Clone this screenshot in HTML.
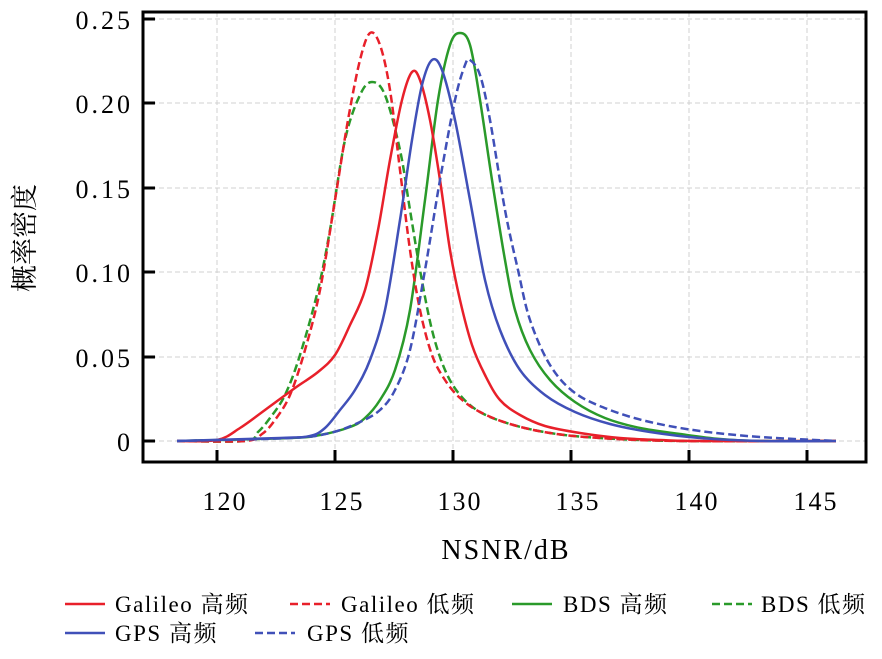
<!DOCTYPE html>
<html><head><meta charset="utf-8"><style>body{margin:0;background:#fff}</style></head><body>
<svg width="882" height="654" xmlns="http://www.w3.org/2000/svg" font-family="Liberation Serif, Noto Serif CJK SC, serif">
<rect width="882" height="654" fill="#fff"/>
<g stroke="#d0d0d0" stroke-width="1" stroke-dasharray="5,3">
<line x1="143" x2="866" y1="19" y2="19"/><line x1="143" x2="866" y1="103" y2="103"/><line x1="143" x2="866" y1="188" y2="188"/><line x1="143" x2="866" y1="272" y2="272"/><line x1="143" x2="866" y1="357" y2="357"/><line x1="143" x2="866" y1="441" y2="441"/>
<line x1="217" x2="217" y1="12" y2="462"/><line x1="335" x2="335" y1="12" y2="462"/><line x1="453" x2="453" y1="12" y2="462"/><line x1="571" x2="571" y1="12" y2="462"/><line x1="689" x2="689" y1="12" y2="462"/><line x1="807" x2="807" y1="12" y2="462"/>
</g>
<g fill="none" stroke-width="2.5" id="curves"></g>
<rect x="143" y="12" width="723" height="450" fill="none" stroke="#000" stroke-width="3"/>
<g stroke="#000" stroke-width="3">
<line x1="143" x2="155" y1="19" y2="19"/><line x1="143" x2="155" y1="103" y2="103"/><line x1="143" x2="155" y1="188" y2="188"/><line x1="143" x2="155" y1="272" y2="272"/><line x1="143" x2="155" y1="357" y2="357"/><line x1="143" x2="155" y1="441" y2="441"/>
<line x1="217" x2="217" y1="462" y2="450"/><line x1="335" x2="335" y1="462" y2="450"/><line x1="453" x2="453" y1="462" y2="450"/><line x1="571" x2="571" y1="462" y2="450"/><line x1="689" x2="689" y1="462" y2="450"/><line x1="807" x2="807" y1="462" y2="450"/>
</g>
<g font-size="26" letter-spacing="3" text-anchor="end" fill="#000">
<text x="133" y="29">0.25</text><text x="133" y="113">0.20</text><text x="133" y="198">0.15</text><text x="133" y="282">0.10</text><text x="133" y="367">0.05</text><text x="133" y="451">0</text>
</g>
<g font-size="26" letter-spacing="2" text-anchor="middle" fill="#000">
<text x="225" y="510">120</text><text x="342" y="510">125</text><text x="460" y="510">130</text><text x="578" y="510">135</text><text x="697" y="510">140</text><text x="816" y="510">145</text>
<text x="506" y="559" font-size="28">NSNR/dB</text>
<text transform="translate(34,238) rotate(-90)" font-size="27" letter-spacing="0">概率密度</text>
</g>
<g font-size="23" letter-spacing="1.5" fill="#000" stroke-width="2.5">
<line x1="65" x2="105" y1="604" y2="604" stroke="#e8202a"/><text x="115" y="612">Galileo 高频</text>
<line x1="290" x2="330" y1="604" y2="604" stroke="#e8202a" stroke-dasharray="8,4"/><text x="341" y="612">Galileo 低频</text>
<line x1="512" x2="552" y1="604" y2="604" stroke="#2a9a2a"/><text x="563" y="612">BDS 高频</text>
<line x1="712" x2="752" y1="604" y2="604" stroke="#2a9a2a" stroke-dasharray="8,4"/><text x="761" y="612">BDS 低频</text>
<line x1="65" x2="105" y1="633" y2="633" stroke="#4050b8"/><text x="115" y="641">GPS 高频</text>
<line x1="255" x2="295" y1="633" y2="633" stroke="#4050b8" stroke-dasharray="8,4"/><text x="307" y="641">GPS 低频</text>
</g>
</svg>
<script>
const S=[
["#2a9a2a","",[[177,441],[290,438],[320,435],[350,427],[365,418],[380,400],[395,370],[410,310],[425,200],[438,100],[450,45],[460,33],[470,45],[480,100],[492,180],[505,260],[515,310],[530,350],[550,380],[575,402],[605,418],[640,428],[680,434],[720,439],[760,441],[836,441]]],
["#2a9a2a","8,4",[[177,441],[245,441],[258,432],[270,418],[285,395],[300,355],[318,290],[330,230],[345,140],[360,95],[372,82],[385,95],[400,150],[410,210],[420,270],[432,330],[445,370],[460,395],[480,412],[510,424],[550,433],[600,438],[680,441],[836,441]]],
["#e8202a","",[[177,441],[217,440],[240,428],[265,410],[295,388],[318,372],[335,355],[350,325],[365,290],[378,230],[390,160],[402,100],[412,72],[420,80],[430,120],[440,180],[450,250],[460,300],[472,345],[485,375],[500,400],[520,415],[545,426],[580,433],[620,438],[660,440],[700,441],[836,441]]],
["#e8202a","8,4",[[177,441],[245,441],[262,434],[275,420],[290,395],[305,350],[320,290],[335,200],[348,120],[360,60],[370,33],[380,45],[390,90],[400,170],[410,250],[420,310],[432,355],[445,380],[460,398],[480,412],[510,424],[550,433],[600,438],[680,441],[836,441]]],
["#4050b8","",[[177,441],[280,438],[310,436],[325,428],[340,410],[355,390],[370,360],[385,310],[400,220],[412,140],[422,85],[432,60],[442,70],[455,120],[470,200],[485,280],[500,330],[520,370],[545,395],[575,412],[610,424],[650,432],[700,438],[760,441],[836,441]]],
["#4050b8","8,4",[[177,441],[290,438],[330,433],[360,422],[380,410],[395,390],[410,350],[425,270],[440,180],[455,100],[465,65],[470,60],[480,75],[490,120],[505,210],[518,270],[530,320],[550,365],[575,393],[610,410],[650,422],[700,431],[760,437],[836,441]]]];
const g=document.getElementById('curves');
for(const [c,d,p] of S){let s=`M${p[0][0]},${p[0][1]}`;
for(let i=0;i<p.length-1;i++){const a=p[i-1]||p[i],b=p[i],e=p[i+1],f=p[i+2]||e;
s+=` C${b[0]+(e[0]-a[0])/6},${b[1]+(e[1]-a[1])/6} ${e[0]-(f[0]-b[0])/6},${e[1]-(f[1]-b[1])/6} ${e[0]},${e[1]}`;}
const el=document.createElementNS('http://www.w3.org/2000/svg','path');el.setAttribute('d',s);el.setAttribute('stroke',c);if(d)el.setAttribute('stroke-dasharray',d);g.appendChild(el);}
</script>
</body></html>
